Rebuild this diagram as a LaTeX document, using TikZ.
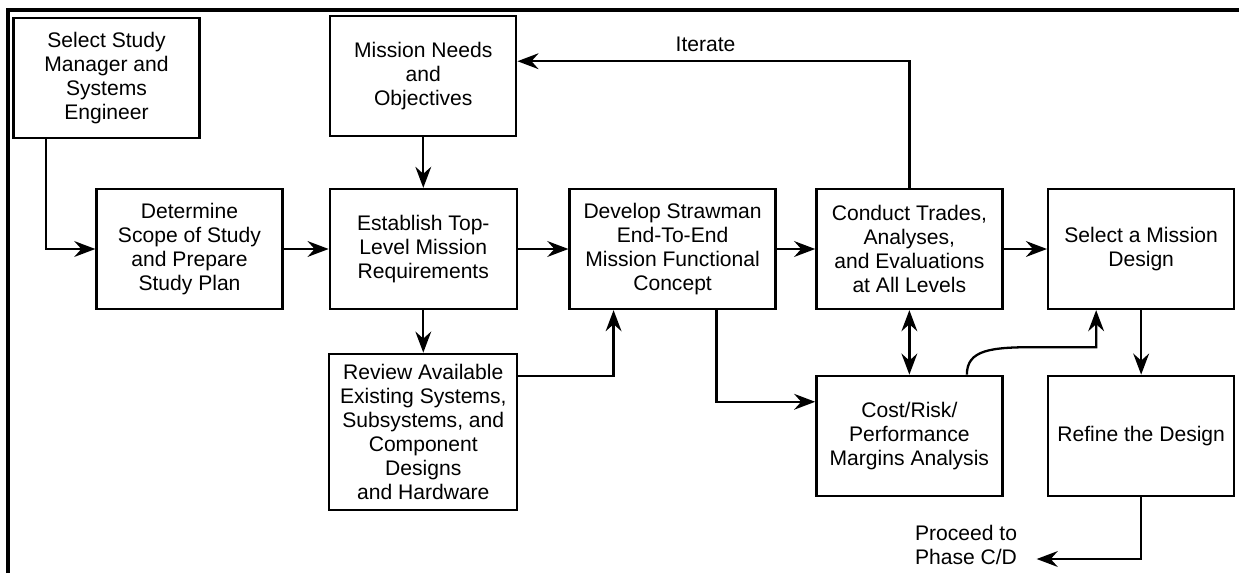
\documentclass[tikz,border=0pt]{standalone}
\usepackage{fontspec}
\setmainfont{Liberation Sans}
\usepackage{tikz}
\usetikzlibrary{arrows.meta,positioning}

\begin{document}
\begin{tikzpicture}[>={Stealth[length=12pt,width=9pt,inset=4pt]}, line width=1.3pt,
    box/.style={draw, rectangle, minimum width=3.72cm, minimum height=2.4cm, align=center, inner sep=2pt, font=\fontsize{12}{13.66}\selectfont},
    txt/.style={align=center, inner sep=2pt, font=\fontsize{12}{13.66}\selectfont}]
    \useasboundingbox (0,0) rectangle (24.78,-11.46);
    \draw[line width=2.3pt] (0.16,-11.46) |- (24.78,-0.2);

    \node [box] (select) at (2.13,-1.56) {Select Study\\Manager and\\Systems\\Engineer};
    \node [box] (scope) at (3.79,-4.98) {Determine\\Scope of Study\\and Prepare\\Study Plan};
    \node [box, minimum width=3.74cm, right=0.9cm of scope] (estab) {Establish Top-\\Level Mission\\Requirements};
    \node [box, above=1.01cm of estab] (mission) {Mission Needs\\and\\Objectives};
    \node [box, minimum width=4.12cm, right=1.01cm of estab] (develop) {Develop Strawman\\End-To-End\\Mission Functional\\Concept};
    \node [box, right=0.77cm of develop] (conduct) {Conduct Trades,\\Analyses,\\and Evaluations\\at All Levels};
    \node [box, right=0.87cm of conduct] (choose) {Select a Mission\\Design};
    \node [box, minimum width=3.76cm, minimum height=3.12cm, below=0.85cm of estab] (review) {Review Available\\Existing Systems,\\Subsystems, and\\Component\\Designs\\and Hardware};
    \node [box, below=1.29cm of conduct] (cost) {Cost/Risk/\\Performance\\Margins Analysis};
    \node [box, below=1.29cm of choose] (refine) {Refine the Design};
    \node [txt] (proceed) at (19.32,-10.9) {Proceed to\\Phase C/D};
    \coordinate (bend) at ([xshift=-0.9cm,yshift=-0.74cm]choose.south);

    \draw [->] ([xshift=-1.21cm]select.south) |- (scope.west);
    \draw [->] (scope) -- (estab);
    \draw [->] (mission) -- (estab);
    \draw [->] (estab) -- (develop);
    \draw [->] (develop) -- (conduct);
    \draw [->] (conduct) -- (choose);
    \draw [->] (conduct.north) |- ([yshift=0.3cm]mission.east) node [txt, pos=0.76, above=3pt] (iterate) {Iterate};
    \draw [->] (estab) -- (review);
    \draw [->] ([yshift=1.12cm]review.east) -| ([xshift=-1.18cm]develop.south);
    \draw [->] ([xshift=0.88cm]develop.south) |- ([yshift=0.68cm]cost.west);
    \draw [<->] (conduct) -- (conduct |- cost.north);
    \draw [->] ([xshift=1.15cm]cost.north) .. controls +(0,0.5) and +(-0.9,0) .. ([xshift=-1.2cm]bend) -- (bend) -- (bend |- choose.south);
    \draw [->] (choose) -- (refine);
    \draw [->] (refine.south) |- ([xshift=0.3cm,yshift=-0.28cm]proceed.east);
\end{tikzpicture}
\end{document}
